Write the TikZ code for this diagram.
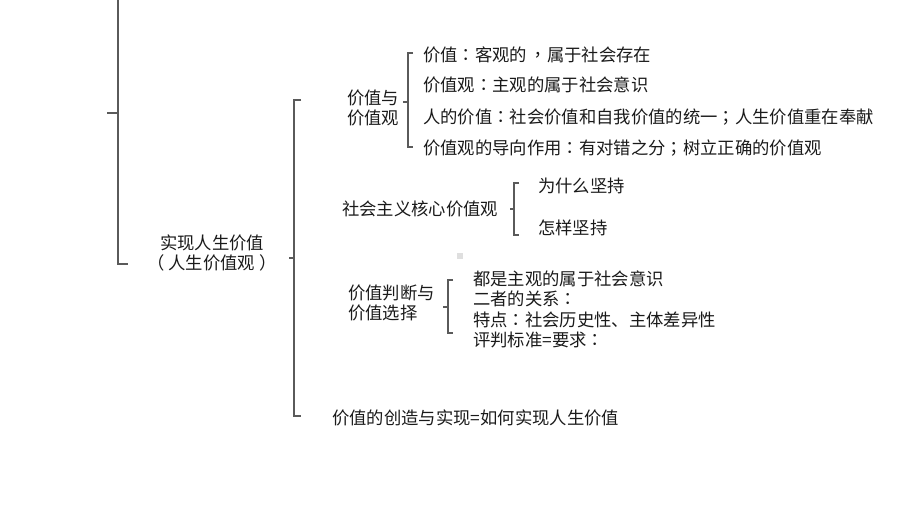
\documentclass[tikz,border=0pt]{standalone}
\usepackage{fontspec}
\setmainfont{Noto Sans CJK SC}
\newfontfamily\tcpunct{Noto Sans CJK TC}
\newcommand\pcol{{\tcpunct ：}}
\newcommand\pcom{{\tcpunct ，}}
\newcommand\psem{{\tcpunct ；}}
\definecolor{linec}{HTML}{5A5A5A}
\definecolor{txtc}{HTML}{1A1A1A}
\begin{document}
\begin{tikzpicture}[x=0.75pt,y=-0.75pt,
  br/.style={draw=linec, line width=0.9pt},
  txt/.style={anchor=west, inner sep=0pt, text=txtc, font=\fontsize{13}{15}\selectfont},
  lab/.style={txt, align=left}]
\useasboundingbox (0,0) rectangle (920,518);
% root bracket
\coordinate (r0) at (118,0);
\coordinate (r1) at (118,264);
\coordinate (r2) at (128,264);
\coordinate (rt0) at (107,113);
\coordinate (rt1) at (118,113);
\draw[br] (r0) -- (r1) -- (r2);
\draw[br] (rt0) -- (rt1);
\node[txt, anchor=center, align=center] (root) at (212,253) {实现人生价值\\（\hspace{3pt}人生价值观\hspace{3pt}）};
% second bracket
\coordinate (s0) at (301,100);
\coordinate (s1) at (294,100);
\coordinate (s2) at (294,416);
\coordinate (s3) at (301,416);
\coordinate (st0) at (289,258);
\coordinate (st1) at (294,258);
\draw[br] (s0) -- (s1) -- (s2) -- (s3);
\draw[br] (st0) -- (st1);
% group 1
\node[lab] (g1) at (347,108) {价值与\\价值观};
\coordinate (a0) at (413,53);
\coordinate (a1) at (408,53);
\coordinate (a2) at (408,147);
\coordinate (a3) at (413,147);
\coordinate (at0) at (403,102);
\coordinate (at1) at (408,102);
\draw[br] (a0) -- (a1) -- (a2) -- (a3);
\draw[br] (at0) -- (at1);
\node[txt] (g1a) at (423,55) {价值\pcol 客观的\hspace{2pt}\pcom 属于社会存在};
\node[txt] (g1b) at (423,85) {价值观\pcol 主观的属于社会意识};
\node[txt] (g1c) at (423,117) {人的价值\pcol 社会价值和自我价值的统一\psem 人生价值重在奉献};
\node[txt] (g1d) at (423,148) {价值观的导向作用\pcol 有对错之分\psem 树立正确的价值观};
% group 2
\node[txt] (g2) at (342,209) {社会主义核心价值观};
\coordinate (b0) at (519,183);
\coordinate (b1) at (514,183);
\coordinate (b2) at (514,235);
\coordinate (b3) at (519,235);
\coordinate (bt0) at (510,209);
\coordinate (bt1) at (514,209);
\draw[br] (b0) -- (b1) -- (b2) -- (b3);
\draw[br] (bt0) -- (bt1);
\node[txt] (g2a) at (538,186) {为什么坚持};
\node[txt] (g2b) at (538,228) {怎样坚持};
% small grey mark
\fill[gray!25] (457,253) rectangle (463,259);
% group 3
\node[lab] (g3) at (348,303) {价值判断与\\价值选择};
\coordinate (c0) at (453,280);
\coordinate (c1) at (448,280);
\coordinate (c2) at (448,333);
\coordinate (c3) at (453,333);
\coordinate (ct0) at (443,307);
\coordinate (ct1) at (448,307);
\draw[br] (c0) -- (c1) -- (c2) -- (c3);
\draw[br] (ct0) -- (ct1);
\node[txt] (g3a) at (473,279) {都是主观的属于社会意识};
\node[txt] (g3b) at (473,299) {二者的关系\pcol};
\node[txt] (g3c) at (473,320) {特点\pcol 社会历史性、主体差异性};
\node[txt] (g3d) at (473,340) {评判标准=要求\pcol};
% group 4
\node[txt] (g4) at (332,418) {价值的创造与实现=如何实现人生价值};
\end{tikzpicture}
\end{document}
